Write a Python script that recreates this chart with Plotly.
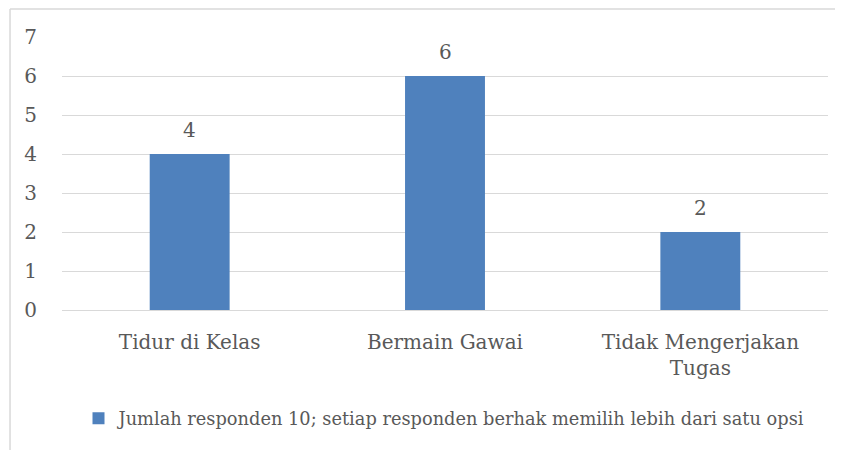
import plotly.graph_objects as go

categories = ["Tidur di Kelas", "Bermain Gawai", "Tidak Mengerjakan<br>Tugas"]
values = [4, 6, 2]
series_name = "Jumlah responden 10; setiap responden berhak memilih lebih dari satu opsi"
y_ticks = [0, 1, 2, 3, 4, 5, 6, 7]

FONT = "DejaVu Serif, Liberation Serif, serif"
GRAY = "#595959"
BLUE = "#4F81BD"

fig = go.Figure()
fig.add_trace(go.Bar(
    x=categories, y=values, name=series_name,
    marker=dict(color=BLUE, line=dict(width=0)),
    width=0.313, showlegend=True,
))

for c, v in zip(categories, values):
    fig.add_annotation(x=c, y=v, text=str(v), showarrow=False,
                       yanchor="bottom", yshift=10,
                       font=dict(family=FONT, size=20, color=GRAY))

# page body has an 8px margin; figure is sized to fit the rest of the window
OFF = 8
W, H = 843 - OFF, 450 - OFF
ml, mr, mt, mb = 62 - OFF, 14.5, 37 - OFF, 140
pw, ph = W - ml - mr, H - mt - mb

bx0 = (10 - OFF - ml) / pw
bxr = (W + 20 - ml) / pw
by_top = (H - mb - 1) / ph
by_bot = (H - mb - 460) / ph
border = dict(color="#D9D9D9", width=1.5)
fig.add_shape(type="line", xref="paper", yref="paper", x0=bx0, x1=bxr,
              y0=by_top, y1=by_top, line=border, layer="below")
fig.add_shape(type="line", xref="paper", yref="paper", x0=bx0, x1=bx0,
              y0=by_bot, y1=by_top, line=border, layer="below")

fig.update_layout(
    width=W, height=H,
    margin=dict(l=ml, r=mr, t=mt, b=mb),
    paper_bgcolor="white", plot_bgcolor="white",
    font=dict(family=FONT, color=GRAY, size=20),
    bargap=0.687,
    showlegend=True,
    legend=dict(orientation="h", x=0.5, xanchor="center", y=-0.33, yanchor="top",
                font=dict(family=FONT, size=17.8, color=GRAY),
                itemwidth=30),
    xaxis=dict(showgrid=False, showline=True, linecolor="#D9D9D9", linewidth=1,
               ticks="", ticklabelstandoff=14, tickfont=dict(size=20, color=GRAY)),
    yaxis=dict(range=[0, 7], tickvals=y_ticks, showgrid=True, gridcolor="#D9D9D9",
               gridwidth=1, zeroline=False, showline=False, ticks="",
               ticklabelstandoff=24, tickfont=dict(size=20, color=GRAY)),
)

fig.write_html("out.html")
